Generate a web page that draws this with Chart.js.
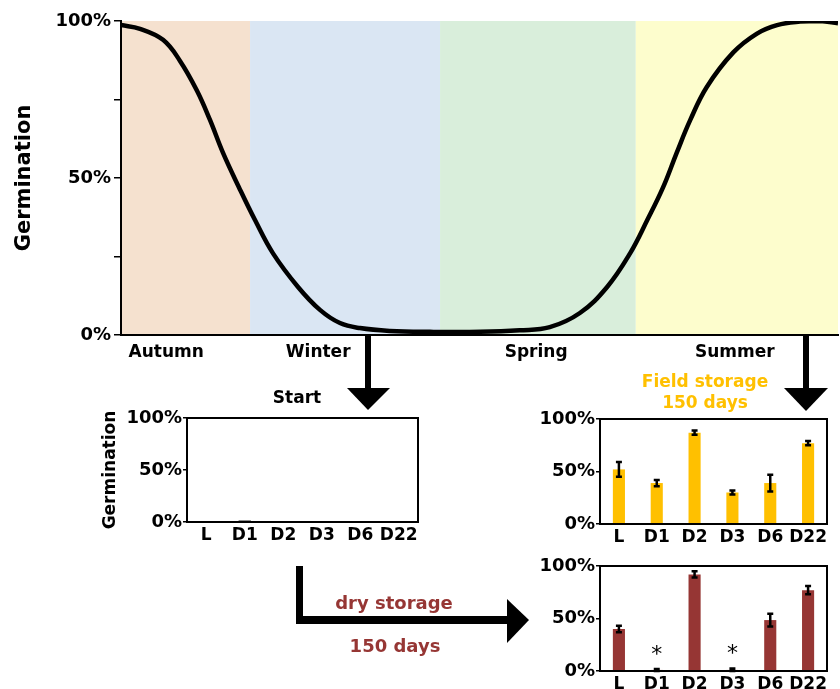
<!DOCTYPE html>
<html>
<head>
<meta charset="utf-8">
<script src="https://cdn.jsdelivr.net/npm/chart.js@4.4.1/dist/chart.umd.min.js"></script>
<style>
  body { margin: 0; background: #fff; }
  #wrap { position: relative; width: 840px; height: 689px; overflow: hidden; font-family: "DejaVu Sans", Verdana, sans-serif; font-weight: bold; }
  canvas, svg, .lbl { position: absolute; }
  .lbl { white-space: nowrap; transform: translate(-50%, -50%); text-align: center; line-height: 21px; }
</style>
</head>
<body>
<div id="wrap">
  <canvas id="yearChart" style="left:0;top:0;width:840px;height:370px" width="840" height="370"></canvas>
  <canvas id="startChart" style="left:90px;top:400px;width:335px;height:150px" width="335" height="150"></canvas>
  <canvas id="fieldChart" style="left:500px;top:400px;width:340px;height:150px" width="340" height="150"></canvas>
  <canvas id="dryChart" style="left:500px;top:550px;width:340px;height:139px" width="340" height="139"></canvas>

  <svg width="840" height="689" style="left:0;top:0">
    <rect x="365" y="335" width="6" height="56" fill="#000"/>
    <polygon points="347,388 390,388 368,410" fill="#000"/>
    <rect x="803" y="335" width="6" height="56" fill="#000"/>
    <polygon points="784,388 828,388 806,411" fill="#000"/>
    <rect x="296" y="566" width="7" height="58" fill="#000"/>
    <rect x="296" y="616" width="214" height="8" fill="#000"/>
    <polygon points="507,599 507,643 529,620" fill="#000"/>
  </svg>

  <div class="lbl" style="left:297px;top:397px;font-size:17px">Start</div>
  <div class="lbl" style="left:705px;top:392px;font-size:17px;color:#ffc000">Field storage<br>150 days</div>
  <div class="lbl" style="left:394px;top:602px;font-size:18px;color:#963634">dry storage</div>
  <div class="lbl" style="left:395px;top:645px;font-size:18px;color:#963634">150 days</div>
</div>

<script>
// seasonal germination curve (x = position through the year, 0..100)
const curveX = [0, 2.65, 5.86, 8.23, 10.6, 12.41, 14.23, 16.46, 18.69, 21.2, 24.69, 27.75, 30.54, 33.33, 37.5, 43.1, 50.1, 55.6, 59.8, 64.0, 67.8, 71.0, 73.4, 75.6, 77.5, 79.4, 81.7, 85.4, 88.7, 91.5, 94.7, 97.5, 100];
const curveY = [98.7, 97.5, 94, 87.3, 77.8, 68.5, 58, 47, 36.6, 26, 15.3, 8, 3.8, 2.2, 1.3, 1, 1, 1.5, 2.5, 7, 15.3, 26, 36.6, 47, 58, 68.5, 79, 90, 96, 98.7, 99.8, 100, 99.3];

const seasons = ['Autumn', 'Winter', 'Spring', 'Summer'];
const seasonBounds = [0, 18, 44.5, 71.8, 100];
const seasonLabelAt = [6.3, 27.5, 57.9, 85.6];
const seasonColors = ['#f5e1cf', '#dae6f3', '#d9eedb', '#fdfdcd'];

// bar panels
const genotypes = ['L', 'D1', 'D2', 'D3', 'D6', 'D22'];
const startVals = [0.5, 1.5, 0.5, 0.5, 0.5, 0.5];
const fieldVals = [52, 39, 87, 30, 39, 77];
const fieldErr = [7, 3, 2, 2, 8, 2];
const dryVals = [40, 1, 92, 1, 48.5, 77];
const dryErr = [3, 1, 3, 1.5, 6, 4];
const dryMarks = ['', '*', '', '*', '', ''];

const FONT = 'DejaVu Sans';

const seasonPlugin = {
    id: 'seasons',
    beforeDraw(chart) {
        const { ctx, chartArea, scales } = chart;
        ctx.save();
        for (let i = 0; i < seasons.length; i++) {
            const x0 = scales.x.getPixelForValue(seasonBounds[i]);
            const x1 = scales.x.getPixelForValue(seasonBounds[i + 1]);
            ctx.fillStyle = seasonColors[i];
            ctx.fillRect(x0, chartArea.top, x1 - x0, chartArea.bottom - chartArea.top);
        }
        ctx.restore();
    },
    afterDraw(chart) {
        const { ctx, chartArea, scales } = chart;
        ctx.save();
        ctx.font = 'bold 17px ' + FONT;
        ctx.fillStyle = '#000';
        ctx.textAlign = 'center';
        ctx.textBaseline = 'middle';
        seasons.forEach((s, i) => ctx.fillText(s, scales.x.getPixelForValue(seasonLabelAt[i]), chartArea.bottom + 18));
        ctx.restore();
    }
};

new Chart(document.getElementById('yearChart'), {
    type: 'line',
    data: {
        datasets: [{
            data: curveX.map((x, i) => ({ x, y: curveY[i] })),
            borderColor: '#000',
            borderWidth: 4.5,
            pointRadius: 0,
            tension: 0.4,
            fill: false
        }]
    },
    options: {
        responsive: false,
        animation: false,
        layout: { padding: { top: 21, right: 2, left: 0, bottom: 0 } },
        plugins: { legend: { display: false }, tooltip: { enabled: false } },
        scales: {
            x: {
                type: 'linear', min: 0, max: 100,
                ticks: { display: false },
                grid: { display: false, drawTicks: false },
                border: { color: '#000', width: 2 },
                afterFit: s => { s.height = 35; }
            },
            y: {
                min: 0, max: 100,
                ticks: {
                    stepSize: 25,
                    color: '#000',
                    font: { family: FONT, weight: 'bold', size: 18 },
                    padding: 3,
                    callback: v => (v % 50 === 0 ? v + '%' : '')
                },
                grid: { drawOnChartArea: false, drawTicks: true, tickLength: 7, color: '#000', lineWidth: 1.5 },
                border: { color: '#000', width: 2 },
                title: { display: true, text: 'Germination', color: '#000', font: { family: FONT, weight: 'bold', size: 21 }, padding: { top: 12, bottom: 0 } },
                afterFit: s => { s.width = 121; }
            }
        }
    },
    plugins: [seasonPlugin]
});

const boxPlugin = {
    id: 'box',
    afterDatasetsDraw(chart) {
        const { ctx, chartArea, scales } = chart;
        const meta = chart.getDatasetMeta(0);
        const ds = chart.data.datasets[0];
        ctx.save();
        ctx.strokeStyle = '#000';
        ctx.lineWidth = 2.5;
        (ds.errors || []).forEach((e, i) => {
            if (!e) return;
            const x = meta.data[i].x;
            const yTop = scales.y.getPixelForValue(ds.data[i] + e);
            const yBot = scales.y.getPixelForValue(Math.max(0, ds.data[i] - e));
            ctx.beginPath();
            ctx.moveTo(x, yTop); ctx.lineTo(x, yBot);
            ctx.moveTo(x - 3, yTop); ctx.lineTo(x + 3, yTop);
            ctx.moveTo(x - 3, yBot); ctx.lineTo(x + 3, yBot);
            ctx.stroke();
        });
        ctx.fillStyle = '#000';
        ctx.font = '22px ' + FONT;
        ctx.textAlign = 'center';
        ctx.textBaseline = 'alphabetic';
        (ds.marks || []).forEach((m, i) => {
            if (!m) return;
            const y = scales.y.getPixelForValue(ds.data[i] + (ds.errors ? ds.errors[i] : 0));
            ctx.fillText(m, meta.data[i].x, y - 8);
        });
        ctx.lineWidth = 2;
        ctx.strokeRect(chartArea.left, chartArea.top, chartArea.right - chartArea.left, chartArea.bottom - chartArea.top);
        ctx.restore();
    }
};

function barPanel(id, values, errors, color, marks, p) {
    return new Chart(document.getElementById(id), {
        type: 'bar',
        data: {
            labels: genotypes,
            datasets: [{ data: values, errors, marks, backgroundColor: color, barPercentage: 0.8, categoryPercentage: 0.4 }]
        },
        options: {
            responsive: false,
            animation: false,
            layout: { padding: { top: p.top, right: p.right, left: 0, bottom: 0 } },
            plugins: { legend: { display: false }, tooltip: { enabled: false } },
            scales: {
                x: {
                    ticks: { color: '#000', font: { family: FONT, weight: 'bold', size: 17 }, padding: p.xPad, maxRotation: 0, autoSkip: false },
                    grid: { display: false, drawTicks: false },
                    border: { color: '#000', width: 2 },
                    afterFit: s => { s.height = p.xHeight; }
                },
                y: {
                    min: 0, max: 100,
                    ticks: { stepSize: 50, color: '#000', font: { family: FONT, weight: 'bold', size: 18 }, padding: 1, callback: v => v + '%' },
                    grid: { drawOnChartArea: false, drawTicks: true, tickLength: 4, color: '#000', lineWidth: 1.5 },
                    border: { color: '#000', width: 2 },
                    title: { display: !!p.title, text: 'Germination', color: '#000', font: { family: FONT, weight: 'bold', size: 17 }, padding: { top: 10, bottom: 0 } },
                    afterFit: s => { s.width = p.yWidth; }
                }
            }
        },
        plugins: [boxPlugin]
    });
}

barPanel('startChart', startVals, null, '#333333', null, { top: 18, right: 7, xHeight: 28, xPad: 3, yWidth: 97, title: true });
barPanel('fieldChart', fieldVals, fieldErr, '#ffc000', null, { top: 19, right: 13, xHeight: 26, xPad: 3, yWidth: 100 });
barPanel('dryChart', dryVals, dryErr, '#963634', dryMarks, { top: 16, right: 13, xHeight: 18, xPad: 3, yWidth: 100 });
</script>
</body>
</html>
